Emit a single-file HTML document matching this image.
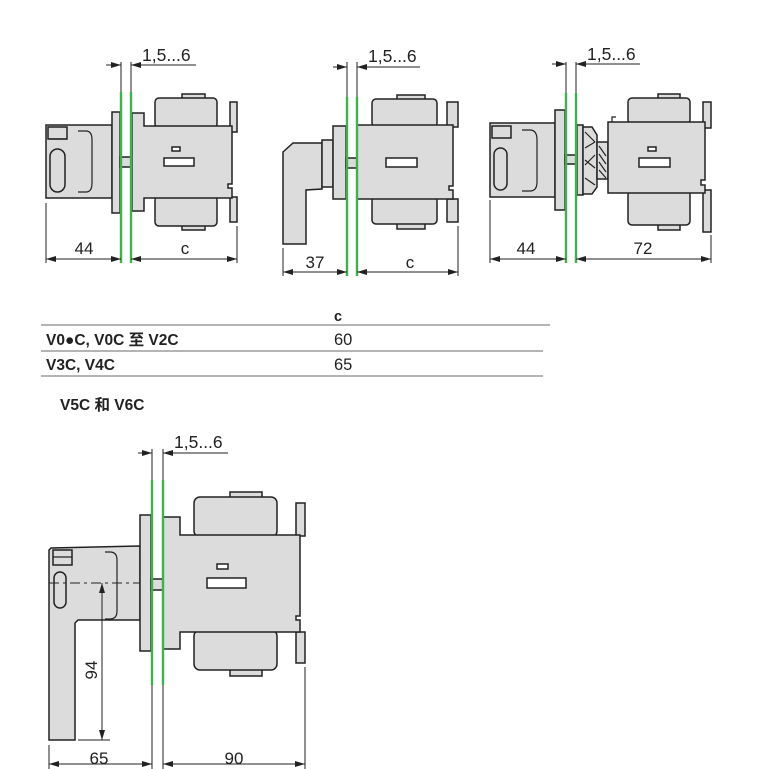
<!DOCTYPE html>
<html><head><meta charset="utf-8"><style>
html,body{margin:0;padding:0;background:#fff}
svg{display:block}
text{font-family:"Liberation Sans","Noto Sans CJK SC",sans-serif;fill:#222}
.p{fill:#dcdcdc;stroke:#222;stroke-width:1.5}
.l{fill:none;stroke:#222;stroke-width:1.2}
.w{fill:#fff;stroke:#222;stroke-width:1.5}
.g{stroke:#3cb44b;stroke-width:2.4}
.d{stroke:#222;stroke-width:1}
.t{font-size:17px}
.s{font-size:17.5px}
</style></head><body>
<svg width="769" height="769" viewBox="0 0 769 769" xmlns="http://www.w3.org/2000/svg">
<defs>
<marker id="a" viewBox="0 0 10 6" refX="10" refY="3" markerWidth="10" markerHeight="6" orient="auto" markerUnits="userSpaceOnUse"><path d="M0,0 L10,3 L0,6z" fill="#222"/></marker>
</defs>

<!-- ========== Diagram 1 ========== -->
<g>
<line class="d" x1="121" y1="62" x2="121" y2="92"/><line class="d" x1="131" y1="62" x2="131" y2="92"/>
<line class="d" x1="106" y1="65" x2="121" y2="65" marker-end="url(#a)"/>
<line class="d" x1="196" y1="65" x2="131" y2="65" marker-end="url(#a)"/>
<text x="142" y="61" class="s">1,5...6</text>
<rect class="p" x="46" y="125" width="66" height="73"/>
<rect class="p" x="48" y="127" width="19" height="12"/>
<line class="l" x1="49" y1="139" x2="67" y2="139"/>
<rect class="p" x="50" y="149" width="15" height="43" rx="7.5"/>
<path class="l" d="M78,131 H86 Q92,131 92,140 V183 Q92,192 86,192 H78"/>
<rect class="p" x="112" y="112" width="8" height="101"/>
<rect class="p" x="120" y="157" width="12" height="10"/>
<rect class="p" x="182" y="94" width="23" height="6"/>
<rect class="p" x="182" y="224" width="23" height="6"/>
<rect class="p" x="155" y="98" width="62" height="30" rx="4"/>
<rect class="p" x="155" y="196" width="62" height="30" rx="4"/>
<rect class="p" x="230" y="102" width="7" height="30"/>
<rect class="p" x="230" y="197" width="7" height="25"/>
<path class="p" d="M132,113 H144 V126 H232 V184 H228 V188 H232 V198 H144 V211 H132 Z"/>
<rect class="w" x="172" y="147" width="8" height="4"/>
<rect class="w" x="164" y="158" width="30" height="8"/>
<line class="g" x1="121" y1="92" x2="121" y2="263"/><line class="g" x1="131" y1="92" x2="131" y2="263"/>
<line class="d" x1="46" y1="203" x2="46" y2="263"/><line class="d" x1="237" y1="226" x2="237" y2="263"/>
<line class="d" x1="84" y1="259" x2="46" y2="259" marker-end="url(#a)"/><line class="d" x1="84" y1="259" x2="121" y2="259" marker-end="url(#a)"/>
<line class="d" x1="185" y1="259" x2="131" y2="259" marker-end="url(#a)"/><line class="d" x1="185" y1="259" x2="237" y2="259" marker-end="url(#a)"/>
<text x="84" y="254" class="t" text-anchor="middle">44</text>
<text x="185" y="254" class="t" text-anchor="middle">c</text>
</g>

<!-- ========== Diagram 2 ========== -->
<g>
<line class="d" x1="347" y1="62" x2="347" y2="97"/><line class="d" x1="357" y1="62" x2="357" y2="97"/>
<line class="d" x1="333" y1="67" x2="347" y2="67" marker-end="url(#a)"/>
<line class="d" x1="420" y1="67" x2="357" y2="67" marker-end="url(#a)"/>
<text x="368" y="62" class="s">1,5...6</text>
<polygon class="p" points="283,152 293,143 322,143 322,189 306,190 306,244 283,244"/>
<rect class="p" x="322" y="140" width="11" height="47"/>
<rect class="p" x="333" y="126" width="13" height="73"/>
<rect class="p" x="346" y="158" width="12" height="10"/>
<rect class="p" x="397" y="95" width="28" height="6"/>
<rect class="p" x="397" y="222" width="28" height="7"/>
<rect class="p" x="372" y="99" width="65" height="28" rx="4"/>
<rect class="p" x="372" y="197" width="65" height="27" rx="4"/>
<rect class="p" x="447" y="102" width="11" height="25"/>
<rect class="p" x="447" y="199" width="11" height="23"/>
<path class="p" d="M357,125 H453 V186 H449 V190 H453 V199 H357 Z"/>
<rect class="w" x="386" y="158" width="31" height="9"/>
<line class="g" x1="347" y1="97" x2="347" y2="276"/><line class="g" x1="357" y1="97" x2="357" y2="276"/>
<line class="d" x1="283" y1="248" x2="283" y2="276"/><line class="d" x1="458" y1="226" x2="458" y2="276"/>
<line class="d" x1="315" y1="272" x2="283" y2="272" marker-end="url(#a)"/><line class="d" x1="315" y1="272" x2="347" y2="272" marker-end="url(#a)"/>
<line class="d" x1="408" y1="272" x2="357" y2="272" marker-end="url(#a)"/><line class="d" x1="408" y1="272" x2="458" y2="272" marker-end="url(#a)"/>
<text x="315" y="268" class="t" text-anchor="middle">37</text>
<text x="410" y="268" class="t" text-anchor="middle">c</text>
</g>

<!-- ========== Diagram 3 ========== -->
<g>
<line class="d" x1="566" y1="62" x2="566" y2="93"/><line class="d" x1="576" y1="62" x2="576" y2="93"/>
<line class="d" x1="552" y1="64" x2="566" y2="64" marker-end="url(#a)"/>
<line class="d" x1="640" y1="64" x2="576" y2="64" marker-end="url(#a)"/>
<text x="587" y="60" class="s">1,5...6</text>
<rect class="p" x="490" y="123" width="65" height="74"/>
<rect class="p" x="492" y="126" width="19" height="12"/>
<rect class="p" x="494" y="148" width="13" height="42" rx="6.5"/>
<path class="l" d="M522,130 H530 Q537,130 537,140 V182 Q537,191 530,191 H522"/>
<rect class="p" x="555" y="110" width="10" height="100"/>
<rect class="p" x="565" y="155" width="12" height="9"/>
<rect class="p" x="577" y="125" width="6" height="70"/>
<path class="p" d="M583,127 H592 L597,135 V187 L592,194 H583 Z"/>
<path class="l" d="M585,132 L595,142 M585,148 L595,142 M585,165 L595,155 M585,178 L595,185 M585,160 L595,168"/>
<rect class="p" x="597" y="142" width="11" height="37"/>
<path class="l" d="M599,146 L606,156 M599,154 L606,164 M599,162 L606,172 M599,170 L606,178"/>
<rect class="p" x="658" y="94" width="22" height="6"/>
<rect class="p" x="658" y="224" width="22" height="6"/>
<rect class="p" x="628" y="98" width="62" height="26" rx="4"/>
<rect class="p" x="628" y="191" width="62" height="34" rx="4"/>
<rect class="p" x="703" y="102" width="8" height="26"/>
<rect class="p" x="703" y="190" width="8" height="42"/>
<path class="p" d="M608,122 H705 V180 H701 V185 H705 V193 H608 Z"/>
<path class="l" d="M612,122 V117 H616"/>
<rect class="w" x="648" y="147" width="8" height="4"/>
<rect class="w" x="639" y="158" width="31" height="9"/>
<line class="g" x1="566" y1="93" x2="566" y2="263"/><line class="g" x1="576" y1="93" x2="576" y2="263"/>
<line class="d" x1="490" y1="200" x2="490" y2="263"/><line class="d" x1="711" y1="235" x2="711" y2="263"/>
<line class="d" x1="526" y1="259" x2="490" y2="259" marker-end="url(#a)"/><line class="d" x1="526" y1="259" x2="566" y2="259" marker-end="url(#a)"/>
<line class="d" x1="643" y1="259" x2="576" y2="259" marker-end="url(#a)"/><line class="d" x1="643" y1="259" x2="711" y2="259" marker-end="url(#a)"/>
<text x="526" y="254" class="t" text-anchor="middle">44</text>
<text x="643" y="254" class="t" text-anchor="middle">72</text>
</g>

<!-- ========== Table ========== -->
<g font-size="15.5" font-weight="bold">
<text x="334" y="321" font-weight="bold" font-size="14.5">c</text>
<line x1="41" y1="325" x2="550" y2="325" stroke="#888" stroke-width="1.2"/>
<text x="46" y="345" font-weight="bold">V0●C, V0C 至 V2C</text>
<text x="334" y="345" font-weight="normal" font-size="16.5">60</text>
<line x1="41" y1="351" x2="543" y2="351" stroke="#888" stroke-width="1.2"/>
<text x="46" y="370" font-weight="bold">V3C, V4C</text>
<text x="334" y="370" font-weight="normal" font-size="16.5">65</text>
<line x1="41" y1="376" x2="543" y2="376" stroke="#888" stroke-width="1.2"/>
<text x="60" y="410" font-weight="bold">V5C 和 V6C</text>
</g>

<!-- ========== Diagram 4 ========== -->
<g>
<line class="d" x1="152" y1="449" x2="152" y2="480"/><line class="d" x1="163" y1="449" x2="163" y2="480"/>
<line class="d" x1="138" y1="453" x2="152" y2="453" marker-end="url(#a)"/>
<line class="d" x1="228" y1="453" x2="163" y2="453" marker-end="url(#a)"/>
<text x="174" y="448" class="s">1,5...6</text>
<polygon class="p" points="49,550 51,548 140,546 140,620 78,620 75,623 75,740 49,740"/>
<rect class="p" x="53" y="550" width="19" height="15"/>
<line class="l" x1="53" y1="557" x2="72" y2="557"/>
<rect class="p" x="54" y="572" width="12" height="36" rx="6"/>
<path class="l" d="M105,552 H110 Q117,552 117,560 V611 Q117,619 110,619 H105"/>
<line x1="49" y1="583" x2="151" y2="583" stroke="#222" stroke-width="1" stroke-dasharray="10,4,3,4"/>
<rect class="p" x="140" y="515" width="11" height="136"/>
<rect class="p" x="151" y="579" width="12" height="11"/>
<rect class="p" x="230" y="492" width="32" height="6"/>
<rect class="p" x="230" y="668" width="32" height="8"/>
<rect class="p" x="194" y="497" width="83" height="40" rx="6"/>
<rect class="p" x="194" y="630" width="83" height="40" rx="6"/>
<rect class="p" x="296" y="503" width="9" height="33"/>
<rect class="p" x="296" y="632" width="9" height="31"/>
<path class="p" d="M163,517 H180 V535 H300 V616 H296 V620 H300 V632 H180 V649 H163 Z"/>
<rect class="w" x="217" y="564" width="11" height="5"/>
<rect class="w" x="207" y="578" width="39" height="10"/>
<line class="g" x1="152" y1="480" x2="152" y2="685"/><line class="g" x1="163" y1="480" x2="163" y2="685"/>
<line class="d" x1="152" y1="685" x2="152" y2="769"/><line class="d" x1="163" y1="685" x2="163" y2="769"/>
<line class="d" x1="102" y1="660" x2="102" y2="583" marker-end="url(#a)"/>
<line class="d" x1="102" y1="660" x2="102" y2="740" marker-end="url(#a)"/>
<line class="d" x1="78" y1="740" x2="110" y2="740"/>
<text x="0" y="0" class="t" text-anchor="middle" transform="translate(97,670) rotate(-90)">94</text>
<line class="d" x1="49" y1="745" x2="49" y2="769"/><line class="d" x1="305" y1="667" x2="305" y2="769"/>
<line class="d" x1="99" y1="764" x2="49" y2="764" marker-end="url(#a)"/><line class="d" x1="99" y1="764" x2="152" y2="764" marker-end="url(#a)"/>
<line class="d" x1="234" y1="764" x2="163" y2="764" marker-end="url(#a)"/><line class="d" x1="234" y1="764" x2="305" y2="764" marker-end="url(#a)"/>
<text x="99" y="764" class="t" text-anchor="middle">65</text>
<text x="234" y="764" class="t" text-anchor="middle">90</text>
</g>
</svg>
</body></html>
